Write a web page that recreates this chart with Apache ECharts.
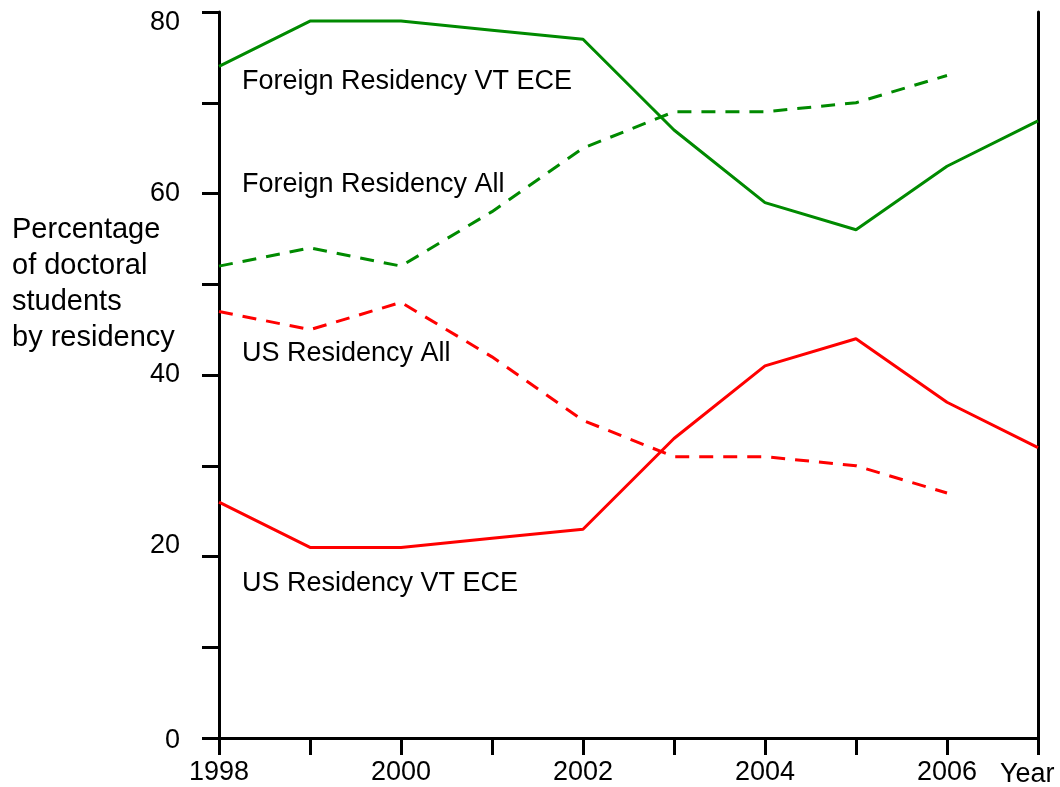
<!DOCTYPE html>
<html><head><meta charset="utf-8">
<script src="https://cdn.jsdelivr.net/npm/echarts@6/dist/echarts.min.js"></script>
<style>html,body{margin:0;padding:0;background:#fff;overflow:hidden}#c{width:1060px;height:787px}</style>
</head><body><div id="c"></div>
<script>
const years = [1998,1999,2000,2001,2002,2003,2004,2005,2006,2007];
const foreignVT = [74,79,79,78,77,67,59,56,63,68];
const foreignAll = [52,54,52,58,65,69,69,70,73];
const usAll = [47,45,48,42,35,31,31,30,27];
const usVT = [26,21,21,22,23,33,41,44,37,32];
const seriesNames = ['Foreign Residency VT ECE','Foreign Residency All','US Residency All','US Residency VT ECE'];
const yLabel = 'Percentage\nof doctoral\nstudents\nby residency';
const xTitle = 'Year';

const GREEN = '#008a00', RED = '#ff0000';
const FAM = '"Liberation Sans", Arial, Helvetica, sans-serif';
const pair = (vals) => vals.map((v,i)=>[years[i], v]);
const mk = (name, vals, color, dashed) => ({
  name, type:'line', data: pair(vals), symbol:'none', silent:true,
  lineStyle:{color, width:3, type: dashed ? [14,10] : 'solid'}
});
const chart = echarts.init(document.getElementById('c'));
const axisLine = {show:true, lineStyle:{color:'#000', width:3}};
const txt = (s, left, top, size, lh) => ({type:'text', left, top,
  style:{text:s, fontSize:size, fontFamily:FAM, fill:'#000', lineHeight:lh||size*1.2}});
chart.setOption({
  animation:false,
  grid:{left:219, right:22, top:12, bottom:49, containLabel:false},
  xAxis:[{
    type:'value', min:1998, max:2007, interval:1,
    axisLine, splitLine:{show:false},
    axisTick:{show:true, length:17, lineStyle:{color:'#000', width:3}},
    axisLabel:{margin:21, fontSize:27, color:'#000', fontFamily:FAM,
      formatter:(v)=> (v%2===0 ? String(v) : '')}
  },{
    type:'value', position:'top', min:1998, max:2007,
    axisLine, axisTick:{show:false}, axisLabel:{show:false}, splitLine:{show:false}
  }],
  yAxis:[{
    type:'value', min:0, max:80, interval:10,
    axisLine, splitLine:{show:false},
    axisTick:{show:true, length:17, lineStyle:{color:'#000', width:3}},
    axisLabel:{margin:39, fontSize:27, color:'#000', fontFamily:FAM,
      formatter:(v)=> v===80 ? '{dn|80}' : v===20 ? '{up|20}' : v===0 ? '{z|0}' : (v%20===0 ? String(v) : ''),
      rich:{
        dn:{fontSize:27, fontFamily:FAM, color:'#000', padding:[22,0,0,0]},
        up:{fontSize:27, fontFamily:FAM, color:'#000', padding:[0,0,22,0]},
        z:{fontSize:27, fontFamily:FAM, color:'#000', padding:[6,0,0,0]}
      }}
  },{
    type:'value', position:'right', min:0, max:80,
    axisLine, axisTick:{show:false}, axisLabel:{show:false}, splitLine:{show:false}
  }],
  series:[
    mk(seriesNames[0], foreignVT, GREEN, false),
    mk(seriesNames[1], foreignAll, GREEN, true),
    mk(seriesNames[2], usAll, RED, true),
    mk(seriesNames[3], usVT, RED, false)
  ],
  graphic:[
    txt(yLabel, 12, 212, 29, 36),
    txt(seriesNames[0], 242, 65, 27),
    txt(seriesNames[1], 242, 168, 27),
    txt(seriesNames[2], 242, 337, 27),
    txt(seriesNames[3], 242, 567, 27),
    txt(xTitle, 1000, 758, 27)
  ]
});
</script></body></html>
